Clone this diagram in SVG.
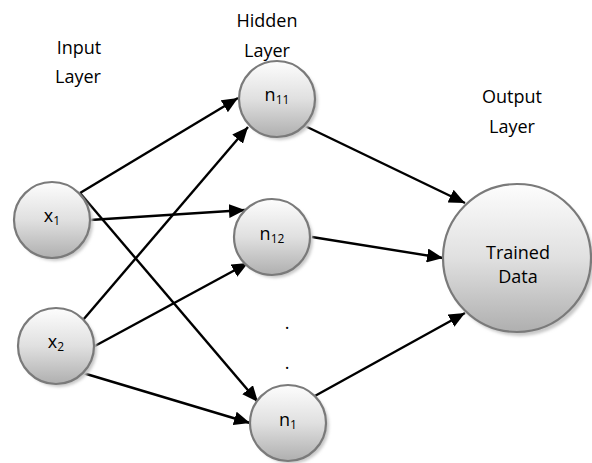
<svg xmlns="http://www.w3.org/2000/svg" width="592" height="463" viewBox="0 0 592 463">
<style>
.lbl{font-family:"Open Sans","Liberation Sans",sans-serif;font-size:18px;fill:#000;text-anchor:middle}
.nl{font-family:"Open Sans","Liberation Sans",sans-serif;font-size:18px;fill:#000;text-anchor:middle}
.sub{font-size:12px}
.node{fill:url(#g);stroke:#7a7a7a;stroke-width:2.2}
.sh{fill:#c8c8c8;filter:url(#blur)}
.edge{stroke:#000;stroke-width:2.4;fill:none;marker-end:url(#arr)}
</style>
<defs>
<linearGradient id="g" x1="0" y1="0" x2="0" y2="1">
<stop offset="0" stop-color="#fdfdfd"/>
<stop offset="0.5" stop-color="#e0e0e0"/>
<stop offset="1" stop-color="#afafaf"/>
</linearGradient>
<filter id="blur" x="-20%" y="-20%" width="140%" height="140%"><feGaussianBlur stdDeviation="1.5"/></filter>
<marker id="arr" markerUnits="userSpaceOnUse" markerWidth="18" markerHeight="14" refX="16" refY="7" orient="auto">
<path d="M0,0 L16,7 L0,14 Z" fill="#000"/>
</marker>
</defs>
<g id="labels">
<text class="lbl" x="79" y="54">Input</text>
<text class="lbl" x="78" y="83">Layer</text>
<text class="lbl" x="267" y="27">Hidden</text>
<text class="lbl" x="267" y="57">Layer</text>
<text class="lbl" x="512" y="103">Output</text>
<text class="lbl" x="512" y="133">Layer</text>
<text class="lbl" x="287" y="329">.</text>
<text class="lbl" x="287" y="369">.</text>
</g>
<g id="connectors">
<line class="edge" x1="80" y1="193" x2="238" y2="98"/>
<line class="edge" x1="90" y1="220" x2="245" y2="210"/>
<line class="edge" x1="80" y1="193" x2="258" y2="402"/>
<line class="edge" x1="83" y1="320" x2="248" y2="127"/>
<line class="edge" x1="93" y1="347" x2="248" y2="263"/>
<line class="edge" x1="83" y1="373" x2="250" y2="423"/>
<line class="edge" x1="303" y1="125" x2="465" y2="203"/>
<line class="edge" x1="312" y1="237" x2="443" y2="258"/>
<line class="edge" x1="313" y1="397" x2="465" y2="313"/>
</g>
<g id="x1">
<circle class="sh" cx="55" cy="223" r="38"/>
<circle class="node" cx="52" cy="220" r="38"/>
<text class="nl" x="52" y="222">x<tspan class="sub" dy="3">1</tspan></text>
</g>
<g id="x2">
<circle class="sh" cx="59" cy="349" r="38"/>
<circle class="node" cx="56" cy="346" r="38"/>
<text class="nl" x="56" y="348">x<tspan class="sub" dy="3">2</tspan></text>
</g>
<g id="n11">
<circle class="sh" cx="280" cy="102" r="38"/>
<circle class="node" cx="277" cy="99" r="38"/>
<text class="nl" x="277" y="101">n<tspan class="sub" dy="3">11</tspan></text>
</g>
<g id="n12">
<circle class="sh" cx="275" cy="240" r="38"/>
<circle class="node" cx="272" cy="237" r="38"/>
<text class="nl" x="272" y="240">n<tspan class="sub" dy="3">12</tspan></text>
</g>
<g id="n1">
<circle class="sh" cx="291" cy="426" r="38"/>
<circle class="node" cx="288" cy="423" r="38"/>
<text class="nl" x="288" y="426">n<tspan class="sub" dy="3">1</tspan></text>
</g>
<g id="output">
<circle class="sh" cx="520" cy="262" r="74"/>
<circle class="node" cx="517" cy="258" r="74"/>
<text class="lbl" x="518" y="259">Trained</text>
<text class="lbl" x="518" y="283">Data</text>
</g>
</svg>
